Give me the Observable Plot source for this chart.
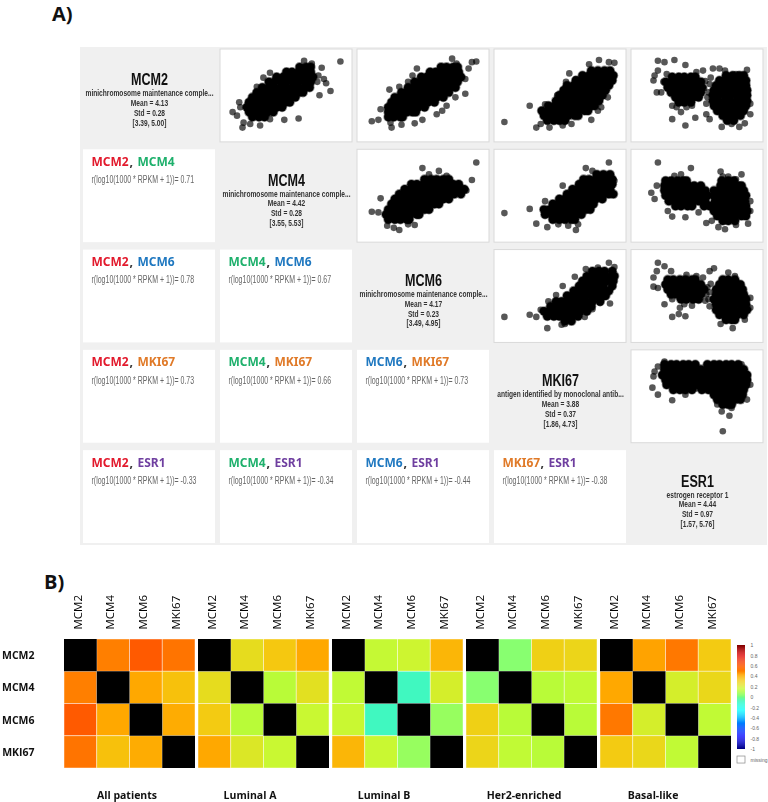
<!DOCTYPE html>
<html><head><meta charset="utf-8">
<script src="https://cdn.jsdelivr.net/npm/d3@7"></script>
<script src="https://cdn.jsdelivr.net/npm/@observablehq/plot@0.6"></script>
<style>
html,body{margin:0;padding:0;background:#fff}
#page{position:relative;width:768px;height:802px;overflow:hidden}
#page>*{position:absolute}
#bg{left:80px;top:47px;width:687px;height:498px;background:#f0f0f0}
.tag{font:700 20px "Open Sans",sans-serif;color:#111}
svg{background:transparent}
</style></head><body><div id="page"><div id="bg"></div>
<div class="tag" style="left:52px;top:0px">A)</div>
<div class="tag" style="left:44px;top:568px">B)</div>
</div>
<script>
const genes=["MCM2","MCM4","MCM6","MKI67","ESR1"];
const geneColor={MCM2:"#e2192c",MCM4:"#1eb06c",MCM6:"#1f78c0",MKI67:"#e07a28",ESR1:"#6f3fa0"};
const geneNames=["minichromosome maintenance comple...","minichromosome maintenance comple...","minichromosome maintenance comple...","antigen identified by monoclonal antib...","estrogen receptor 1"];
const geneMeans=["4.13","4.42","4.17","3.88","4.44"];
const geneStds=["0.28","0.28","0.23","0.37","0.97"];
const geneRanges=["[3.39, 5.00]","[3.55, 5.53]","[3.49, 4.95]","[1.86, 4.73]","[1.57, 5.76]"];
// pair correlations, lower triangle by row
const corrMCM4=["0.71"];
const corrMCM6=["0.78","0.67"];
const corrMKI67=["0.73","0.66","0.73"];
const corrESR1=["-0.33","-0.34","-0.44","-0.38"];

// scatter values: percent of each gene's observed range.
// core = saturated (overplotted) part, each row [y, x, x, ...]; outer = visible single patients [x,y]
const core_MCM2_MCM4=[[90,62,68,72],[83,50,55,61,66,72],[76,41,47,52,58,63,69,74],[69,34,39,45,50,56,61,67,72],[61,28,34,39,45,50,56,61,67,71],[54,23,28,34,39,45,50,56,61,65],[47,19,25,30,36,41,47,52,58],[40,16,22,27,33,38,44,49,53],[33,14,19,25,30,36,41,46],[26,16,22,27,33,38],[19,19,25,30]];
const outer_MCM2_MCM4=[[99,98],[73,95],[66,99],[82,89],[86,67],[90,56],[80,50],[79,78],[61,17],[48,15],[35,82],[29,75],[23,62],[10,4],[1,26],[5,21],[7,40],[8,33],[11,11],[17,9],[26,7],[35,16],[78,69],[84,73]];
const core_MCM2_MCM6=[[90,66,71,77,81],[83,56,61,67,72,78,82],[76,48,53,59,64,70,75,81,84],[69,42,47,53,58,64,69,75,81],[61,36,41,47,52,58,63,69,74,79],[54,30,35,41,46,52,57,63,68,73],[47,24,29,35,40,46,51,57,62,68],[40,21,26,32,37,43,48,54,60],[33,18,23,29,34,40,45,51],[26,18,24,29,35,40,43],[19,18,23,29,31]];
const outer_MCM2_MCM6=[[98,98],[94,97],[76,102],[80,95],[3,13],[9,15],[11,30],[19,58],[28,62],[40,78],[44,88],[88,52],[79,47],[71,35],[67,28],[49,15],[42,10],[30,8],[21,4],[20,11],[88,73],[91,88],[62,23],[36,69]];
const core_MCM2_MKI67=[[85,78,84,90,95],[78,70,76,81,87,92,98],[71,64,69,75,80,86,91,97],[64,56,62,67,73,78,84,89,94],[57,53,58,64,69,75,80,86,91],[50,49,55,60,66,71,77,82,88],[42,46,52,57,63,68,74,79,85],[35,39,45,50,56,61,67,72,78,81],[28,33,39,44,50,55,61,66,72,75],[21,35,41,46,52,57,63,66],[14,38,44,49,54]];
const outer_MCM2_MKI67=[[-1,12],[22,35],[28,4],[32,9],[85,100],[94,97],[99,96],[76,94],[58,81],[64,73],[55,69],[96,71],[93,47],[87,33],[84,28],[78,15],[52,7],[40,4],[47,50],[60,9],[36,37]];
const core_MCM2_ESR1=[[78,76,82,88,92],[76,27,33,38,44,48],[71,70,75,81,86,92,94],[69,21,26,32,37,43,48,53],[64,67,72,78,83,89,94],[61,23,28,34,39,45,50,54],[57,65,70,76,81,87,92,95],[54,26,31,37,42,48,53],[50,64,69,75,80,86,91,95],[47,30,35,41,46,51],[42,64,69,75,80,86,91,95],[40,33,38,44],[35,65,70,76,81,87,92,94],[28,68,73,79,84,90,92],[21,73,78,84,89],[14,77,83]];
const outer_MCM2_ESR1=[[14,99],[20,97],[29,100],[39,93],[10,71],[14,85],[22,80],[13,54],[27,35],[27,16],[39,7],[48,18],[35,26],[55,85],[64,88],[70,88],[75,85],[85,80],[95,86],[93,10],[88,5],[81,9],[72,5],[61,16],[58,23],[98,38],[98,23],[11,78],[19,69],[17,54],[31,33],[49,83],[58,38],[56,60],[60,54],[59,47],[61,66],[62,75],[57,70],[40,33],[45,35]];
const core_MCM4_MCM6=[[73,51,57,62,68,73],[66,39,44,50,55,61,66,72,77,82],[59,33,39,44,50,55,61,66,72,77,83,87],[52,28,34,39,45,50,56,61,67,72,78,84],[45,24,30,35,41,46,52,57,63,68,73],[38,21,27,32,38,43,49,54,60,64],[30,18,24,29,35,40,46,51,55],[23,16,22,27,33,38,44,46],[16,18,24,29,35,37]];
const outer_MCM4_MCM6=[[98,97],[3,27],[9,26],[11,46],[49,89],[55,80],[64,85],[28,1],[42,8],[94,72],[17,7],[23,4],[71,78],[89,57],[36,9]];
const core_MCM4_MKI67=[[80,83,89,95],[73,71,76,82,87,93,97],[66,67,72,78,83,89,94,97],[59,61,66,72,77,83,88,95],[52,56,61,67,72,78,83,89,94,98],[45,49,54,60,65,71,76,82,88],[38,43,48,54,59,65,70,76,80],[30,35,40,46,51,57,62,68,73,77],[23,36,42,47,53,58,64,69],[16,43,49,54,60,63]];
const outer_MCM4_MKI67=[[-1,25],[22,31],[28,10],[38,5],[64,1],[36,42],[52,64],[73,89],[94,97],[99,71],[79,85],[66,9],[57,7],[48,9]];
const core_MCM4_ESR1=[[71,21,26,32,37,40,72,78,83],[64,20,25,31,36,42,47,53,71,76,82,87,90],[57,20,25,31,36,42,47,53,57,65,70,76,81,87,92],[50,21,26,32,37,43,48,54,59,65,70,76,81,87,92,94],[42,24,29,35,40,46,51,57,66,71,77,82,88,93],[35,30,35,41,45,56,61,67,72,78,83,89,94],[28,65,70,76,81,87,92,95],[21,68,73,79,84,90,94],[14,73,78,84]];
const outer_MCM4_ESR1=[[14,97],[44,89],[71,84],[90,80],[13,64],[8,54],[11,45],[23,28],[27,20],[39,19],[51,26],[58,11],[63,14],[69,5],[75,2],[85,8],[96,10],[29,78],[35,80],[78,77],[85,73],[98,42],[98,28],[73,77]];
const core_MCM6_MKI67=[[85,79,85,90,97],[78,74,79,85,90,96,99],[71,70,75,81,86,92,98],[64,67,72,78,83,89,97],[57,62,67,73,78,84,89,94],[50,56,61,67,72,78,83,89,91],[42,46,51,57,62,68,73,79,86],[35,41,46,52,57,63,68,74,78],[28,35,40,46,51,57,62,68,74],[21,38,44,49,55,60,66],[14,54,60]];
const outer_MCM6_MKI67=[[-1,20],[22,23],[28,20],[38,4],[32,30],[52,64],[63,77],[73,88],[94,97],[99,91],[95,39],[86,40],[79,31],[72,20],[54,10],[39,42],[84,90],[46,51],[51,9]];
const core_MCM6_ESR1=[[73,23,28,34,39,45,48,73,78,84],[66,21,26,32,37,43,48,53,70,75,81,86,89],[59,23,28,34,39,45,50,56,67,72,78,83,89,91],[52,26,31,37,42,48,53,67,72,78,83,89,92],[45,35,40,46,51,65,70,76,81,87,92,94],[38,67,72,78,83,89,94],[30,67,72,78,83,89,95],[23,70,75,81,86,92],[16,76,81,84]];
const outer_MCM6_ESR1=[[14,97],[20,92],[10,76],[10,63],[14,61],[26,85],[61,85],[65,89],[78,83],[84,78],[27,20],[33,24],[39,21],[34,33],[27,45],[71,10],[82,4],[93,16],[98,33],[98,47],[61,35],[58,52],[49,78],[40,80],[55,76],[13,85],[20,38],[59,62],[61,55],[62,67],[60,45],[57,43],[45,36],[38,38]];
const core_MKI67_ESR1=[[95,20,26,31,37,42,48,59,65,70,76,81,87],[88,20,26,31,37,42,48,53,59,64,70,75,81,86,92],[80,18,24,29,35,40,46,51,57,62,68,73,79,84,90,95],[73,21,27,32,38,43,49,54,60,65,71,76,82,87,93,95],[66,22,28,33,39,44,50,55,61,66,72,77,83,88,94],[59,28,34,39,45,54,60,65,71,76,82,87,92],[52,65,70,76,81,87,91],[45,68,73,79,84,89],[38,73,78,81]];
const outer_MKI67_ESR1=[[73,0],[79,22],[72,28],[27,44],[14,52],[9,62],[14,92],[20,99],[39,52],[49,61],[68,38],[81,33],[95,45],[98,66],[11,85],[10,78],[90,95]];

// heatmaps
const heatGenes=["MCM2","MCM4","MCM6","MKI67"];
const heatGroups=["All patients","Luminal A","Luminal B","Her2-enriched","Basal-like"];
const heatAll=[[null,.5,.6,.53],[.5,null,.42,.35],[.6,.42,null,.41],[.53,.35,.41,null]];
const heatLumA=[[null,.25,.33,.42],[.25,null,.13,.24],[.32,.13,null,.17],[.42,.22,.17,null]];
const heatLumB=[[null,.16,.18,.38],[.15,null,-.08,.2],[.17,-.08,null,.06],[.38,.17,.06,null]];
const heatHer2=[[null,.03,.3,.28],[.03,null,.13,.15],[.3,.13,null,.13],[.28,.15,.13,null]];
const heatBasal=[[null,.43,.52,.32],[.42,null,.2,.27],[.52,.2,null,.15],[.32,.27,.15,null]];
const legendTicks=[1,.8,.6,.4,.2,0,-.2,-.4,-.6,-.8,-1];
const colorStops=[-1,-.75,-.25,-.08,.03,.13,.17,.25,.33,.42,.5,.6,.8,1];
const colorRange=["#00007f","#0000ff","#00ffff","#40f8c0","#88ff70","#b9fb38","#c9f832","#e6dc1e","#f5c810","#ffa800","#ff7f00","#ff5a00","#e00000","#7f0000"];

const sans='"Liberation Sans",sans-serif';
const scatterSets=[
 ["MCM2","MCM4",core_MCM2_MCM4,outer_MCM2_MCM4],["MCM2","MCM6",core_MCM2_MCM6,outer_MCM2_MCM6],
 ["MCM2","MKI67",core_MCM2_MKI67,outer_MCM2_MKI67],["MCM2","ESR1",core_MCM2_ESR1,outer_MCM2_ESR1],
 ["MCM4","MCM6",core_MCM4_MCM6,outer_MCM4_MCM6],["MCM4","MKI67",core_MCM4_MKI67,outer_MCM4_MKI67],
 ["MCM4","ESR1",core_MCM4_ESR1,outer_MCM4_ESR1],["MCM6","MKI67",core_MCM6_MKI67,outer_MCM6_MKI67],
 ["MCM6","ESR1",core_MCM6_ESR1,outer_MCM6_ESR1],["MKI67","ESR1",core_MKI67_ESR1,outer_MKI67_ESR1]];
const corePts=scatterSets.flatMap(([row,col,c])=>c.flatMap(([y,...xs])=>xs.map(x=>({row,col,x,y}))));
const outerPts=scatterSets.flatMap(([row,col,,o])=>o.map(([x,y])=>({row,col,x,y})));
const scatterCells=scatterSets.map(([row,col])=>({row,col}));
const corrRows=[["MCM4",corrMCM4],["MCM6",corrMCM6],["MKI67",corrMKI67],["ESR1",corrESR1]];
const corrCells=corrRows.flatMap(([row,vals])=>vals.map((v,i)=>({row,col:genes[i],v})));
const info=genes.map((gene,i)=>({gene,lines:[geneNames[i],"Mean = "+geneMeans[i],"Std = "+geneStds[i],geneRanges[i]].join("\n")}));
const full={x1:-10,x2:110,y1:-17,y2:115};
const title={fx:"col",fy:"row",frameAnchor:"top-left",textAnchor:"start",lineAnchor:"middle",dy:12,fontFamily:"Noto Sans",fontWeight:700,fontSize:12.5};

const matrix=Plot.plot({
 width:768,height:550,marginLeft:83,marginRight:5,marginTop:49,marginBottom:7,
 style:{background:"transparent"},
 x:{domain:[-10,110],axis:null},y:{domain:[-17,115],axis:null},
 fx:{domain:genes,axis:null,paddingInner:.0365,paddingOuter:0,round:false},
 fy:{domain:genes,axis:null,paddingInner:.074,paddingOuter:0,round:false},
 marks:[
  Plot.rect(corrCells,{...full,fx:"col",fy:"row",fill:"white"}),
  Plot.rect(scatterCells,{...full,fx:"col",fy:"row",fill:"white",stroke:"#d9d9d9",strokeWidth:1}),
  Plot.dot(corePts,{x:"x",y:"y",fx:"col",fy:"row",r:5,fill:"#000",fillOpacity:.45}),
  Plot.dot(outerPts,{x:"x",y:"y",fx:"col",fy:"row",r:3.3,fill:"#000",fillOpacity:.66}),
  Plot.dot(corePts,{x:"x",y:"y",fx:"col",fy:"row",r:4.2,fill:"#000"}),
  Plot.text(corrCells,{...title,text:"col",dx:8,fill:d=>geneColor[d.col],className:"sx96"}),
  Plot.text(corrCells,{...title,text:()=>",",dx:46,fill:"#333"}),
  Plot.text(corrCells,{...title,text:"row",dx:54,fill:d=>geneColor[d.row],className:"sx96"}),
  Plot.text(corrCells,{fx:"col",fy:"row",text:d=>`r(log10(1000 * RPKM + 1))= ${d.v}`,frameAnchor:"top-left",textAnchor:"start",lineAnchor:"middle",dx:8,dy:30,fontFamily:sans,fontSize:10,fill:"#666",className:"sx70"}),
  Plot.text(info,{fx:"gene",fy:"gene",text:"gene",frameAnchor:"middle",dy:-16,fontFamily:sans,fontWeight:700,fontSize:17,fill:"#111",className:"sx74"}),
  Plot.text(info,{fx:"gene",fy:"gene",text:"lines",frameAnchor:"middle",dy:12,lineHeight:1.15,fontFamily:sans,fontWeight:700,fontSize:8.5,fill:"#333",className:"sx78"})
 ]});
matrix.style.left="0";matrix.style.top="0";matrix.style.filter="blur(0.45px)";
// the reference's labels are set in a condensed face: squeeze the real text horizontally
for(const [cls,k] of [["sx70",.7],["sx74",.74],["sx78",.78],["sx96",.96]])
 matrix.querySelectorAll(`.${cls} text`).forEach(t=>t.setAttribute("transform",`${t.getAttribute("transform")||""} scale(${k},1)`));
document.getElementById("page").appendChild(matrix);

const matrices=[heatAll,heatLumA,heatLumB,heatHer2,heatBasal];
const heatCells=heatGroups.flatMap((group,g)=>matrices[g].flatMap((r,i)=>r.map((v,j)=>({group,row:heatGenes[i],col:heatGenes[j],v}))));
const colorOpt={type:"linear",domain:colorStops,range:colorRange,interpolate:"rgb"};
const labelShift=[-3,-14,-14,-8,-13];
const heat=Plot.plot({
 width:768,height:252,marginLeft:64,marginRight:37,marginTop:89,marginBottom:34,
 style:{background:"transparent"},
 fx:{domain:heatGroups,axis:null,paddingInner:.0224,paddingOuter:0,round:false},
 x:{domain:heatGenes,padding:0,axis:null,round:false},y:{domain:heatGenes,padding:0,axis:null,round:false},
 color:colorOpt,
 marks:[
  Plot.cell(heatCells.filter(d=>d.v!=null),{fx:"group",x:"col",y:"row",fill:"v",stroke:"#fff",strokeOpacity:.55,strokeWidth:.8}),
  Plot.cell(heatCells.filter(d=>d.v==null),{fx:"group",x:"col",y:"row",fill:"#000"}),
  Plot.axisX({anchor:"top",label:null,tickSize:0,tickPadding:10,tickRotate:-90,dx:-3,fontFamily:"Open Sans",fontSize:11.5,fontWeight:500,fill:"#000"}),
  Plot.axisY({anchor:"left",label:null,tickSize:0,tickPadding:30,fontFamily:"Open Sans",fontWeight:700,fontSize:10.5,fill:"#111"}),
  ...heatGroups.map((g,i)=>Plot.text([g],{fx:d=>d,text:d=>d,frameAnchor:"bottom",dy:30,dx:labelShift[i],fontFamily:"Open Sans",fontWeight:700,fontSize:10.5,fill:"#111"}))
 ]});
heat.style.left="0";heat.style.top="550px";heat.style.filter="blur(0.35px)";
document.getElementById("page").appendChild(heat);

const ramp=d3.range(-1,1,.02);
const legend=Plot.plot({
 width:38,height:130,marginLeft:7,marginRight:23,marginTop:5,marginBottom:21,
 style:{background:"transparent"},
 x:{domain:[0,1],axis:null},y:{domain:[-1,1],axis:null},color:colorOpt,
 marks:[
  Plot.rect(ramp,{x1:0,x2:1,y1:d=>d,y2:d=>d+.02,fill:d=>d+.01}),
  Plot.axisY({anchor:"right",ticks:legendTicks,tickFormat:d=>String(d),label:null,tickSize:0,tickPadding:5,fontSize:5,fontFamily:"Liberation Sans",fill:"#666"}),
  Plot.rect(["missing"],{x1:0,x2:1,y1:-1.135,y2:-1.27,fill:"white",stroke:"#888",strokeWidth:.7}),
  Plot.text(["missing"],{x:1,y:-1.2,text:d=>d,textAnchor:"start",dx:5,fontSize:5,fontFamily:"Liberation Sans",fill:"#666"})
 ]});
legend.style.left="730px";legend.style.top="640px";legend.style.overflow="visible";
document.getElementById("page").appendChild(legend);
</script></body></html>
